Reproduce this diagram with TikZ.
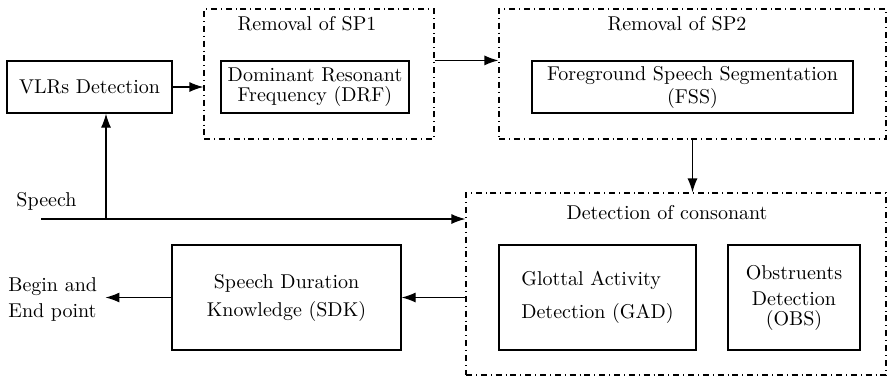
\documentclass[tikz,border=0pt]{standalone}
\usepackage{xcolor}
\usetikzlibrary{arrows.meta}

\begin{document}
\begin{tikzpicture}[x=0.5pt,y=-0.5pt,
  block/.style={rectangle,draw,line width=0.6pt,align=center,inner sep=2pt},
  stage/.style={rectangle,draw,dash dot,line width=0.6pt},
  link/.style={line width=0.6pt},
  >={Latex[length=7pt,width=5pt]}]
\useasboundingbox (0,0) rectangle (890,377);
% dash-dot stages
\node [stage,minimum width=115pt,minimum height=65pt] at (319,74) (sp1) {};
\node [stage,minimum width=193.5pt,minimum height=65pt] at (692.5,74) (sp2) {};
\node [stage,minimum width=210pt,minimum height=91pt] at (676,284) (cons) {};
\node at (307,24) (sp1t) {Removal of SP1};
\node at (677,24) (sp2t) {Removal of SP2};
\node at (667,213) (const) {Detection of consonant};
% blocks
\node [block,minimum width=82.5pt,minimum height=26pt] at (89.5,87) (vlr) {VLRs Detection};
\node [block,minimum width=94pt,minimum height=26pt] at (315,87) (drf) {Dominant Resonant\\[-2pt]Frequency (DRF)};
\node [block,minimum width=160.5pt,minimum height=26pt] at (692.5,87) (fss) {Foreground Speech Segmentation\\[-0.5pt](FSS)};
\node [block,minimum width=98.5pt,minimum height=52.5pt,align=left] at (597.5,297.5) (gad) {Glottal Activity\\[4.5pt]Detection (GAD)};
\node [block,minimum width=66pt,minimum height=52.5pt] at (794,297.5) (obs) {Obstruents\\[1pt]Detection\\[-2pt](OBS)};
\node [block,minimum width=114.5pt,minimum height=52.5pt] at (286.5,297.5) (sdk) {Speech Duration\\[2pt]Knowledge (SDK)};
% input and output
\node at (46.5,201) (speech) {Speech};
\node [anchor=west,align=left,inner xsep=4pt] at (0,299) (bep) {Begin and\\[1pt]End point};
\coordinate (src) at (41,219);
\coordinate (tap) at (106,219);
% connectors
\draw [link] (src)[->] -- (src -| cons.west);
\draw [link] (tap)[->] -- (tap |- vlr.south);
\draw [link] (vlr.east)[->] -- (vlr.east -| sp1.west);
\draw [link] (sp1.east |- drf.north)[->] -- (sp2.west |- drf.north);
\draw [link] (sp2.south)[->] -- (sp2.south |- cons.north);
\draw [link] (cons.west |- sdk.east)[->] -- (sdk.east);
\draw [link] (sdk.west)[->] -- (sdk.west -| bep.east);
\end{tikzpicture}
\end{document}
